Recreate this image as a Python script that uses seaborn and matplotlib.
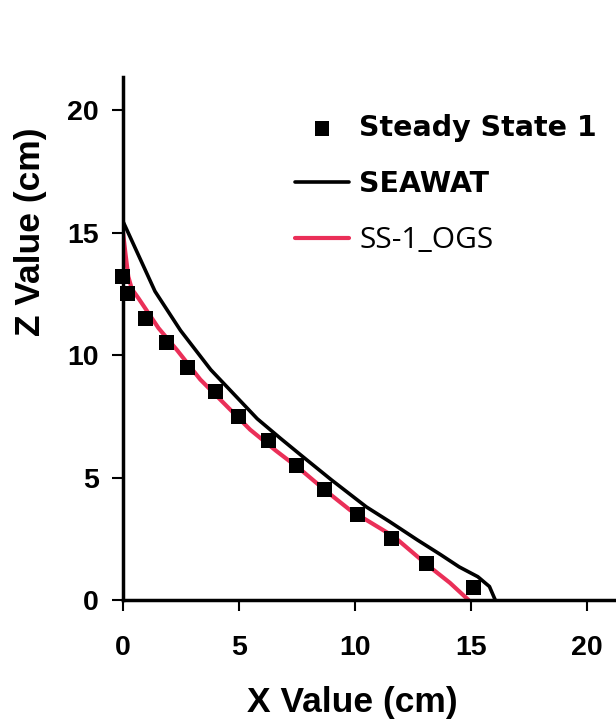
import matplotlib
matplotlib.use("Agg")
import matplotlib.pyplot as plt
import seaborn as sns
import pandas as pd

# Steady State 1 measured points
ss_x = [0.0, 0.2, 1.0, 1.9, 2.8, 4.0, 5.0, 6.3, 7.5, 8.7, 10.1, 11.6, 13.1, 15.1]
ss_z = [13.2, 12.5, 11.5, 10.5, 9.5, 8.5, 7.5, 6.5, 5.5, 4.5, 3.5, 2.5, 1.5, 0.5]

# SEAWAT interface
seawat_x = [0.0, 1.4, 2.5, 3.8, 5.0, 5.8, 6.8, 7.7, 9.0, 10.5, 11.5, 12.7, 13.7, 14.5, 15.3, 15.8, 16.05]
seawat_z = [15.5, 12.6, 11.0, 9.4, 8.2, 7.4, 6.6, 5.9, 4.9, 3.8, 3.2, 2.45, 1.85, 1.35, 0.95, 0.55, 0.0]

# SS-1_OGS interface
ogs_x = [0.0, 0.12, 0.25, 0.4, 0.7, 1.55, 2.35, 3.35, 4.4, 5.5, 6.6, 7.7, 8.7, 9.8, 11.7, 13.1, 14.1, 14.9]
ogs_z = [15.2, 14.2, 13.2, 12.7, 12.3, 11.1, 10.2, 9.0, 8.0, 6.95, 6.1, 5.3, 4.5, 3.67, 2.58, 1.45, 0.7, 0.0]

x_ticks = [0, 5, 10, 15, 20]
z_ticks = [0, 5, 10, 15, 20]

ss_df = pd.DataFrame({"x": ss_x, "z": ss_z})
seawat_df = pd.DataFrame({"x": seawat_x, "z": seawat_z})
ogs_df = pd.DataFrame({"x": ogs_x, "z": ogs_z})

sns.set_style("ticks")
plt.rcParams["font.family"] = ["Liberation Sans", "DejaVu Sans"]
plt.rcParams["text.color"] = "black"
plt.rcParams["axes.labelcolor"] = "black"

W, H = 616, 721
fig = plt.figure(figsize=(W / 100, H / 100), dpi=100)
left, bottom, top = 122.5, 600, 77
ax = fig.add_axes([left / W, (H - bottom) / H, (W - left) / W, (bottom - top) / H])

red = "#ea2f58"

sns.lineplot(data=seawat_df, x="x", y="z", sort=False, estimator=None, color="black",
             linewidth=2.6, ax=ax, label="SEAWAT")
sns.lineplot(data=ogs_df, x="x", y="z", sort=False, estimator=None, color=red,
             linewidth=3.0, ax=ax, label="SS-1_OGS")
sns.scatterplot(data=ss_df, x="x", y="z", marker="s", s=115, color="black",
                edgecolor="none", ax=ax, label="Steady State 1", clip_on=False, zorder=3)

ax.set_xlim(0, 21.25)
ax.set_ylim(0, 21.35)
ax.set_xticks(x_ticks)
ax.set_yticks(z_ticks)

for side in ["top", "right"]:
    ax.spines[side].set_visible(False)
for side in ["left", "bottom"]:
    ax.spines[side].set_linewidth(2.5)
    ax.spines[side].set_color("black")

ax.tick_params(axis="both", direction="out", length=8, width=1.5, colors="black",
               labelcolor="black", labelsize=20.5)
ax.tick_params(axis="x", pad=17)
ax.tick_params(axis="y", pad=9)
for lab in ax.get_xticklabels() + ax.get_yticklabels():
    lab.set_fontweight("bold")

ax.set_xlabel("X Value (cm)", fontsize=25.5, fontweight="bold", color="black")
ax.set_ylabel("Z Value (cm)", fontsize=25.5, fontweight="bold", color="black")
ax.xaxis.label.set_va("center")
ax.yaxis.label.set_va("center")
ax.xaxis.set_label_coords(0.465, -0.196)
ax.yaxis.set_label_coords(-0.187, 0.704)

handles, labels = ax.get_legend_handles_labels()
order = [labels.index("Steady State 1"), labels.index("SEAWAT"), labels.index("SS-1_OGS")]
leg = ax.legend([handles[i] for i in order], [labels[i] for i in order],
                loc="upper left", bbox_to_anchor=(295 / W, 1 - 114 / H),
                bbox_transform=fig.transFigure, frameon=False, borderpad=0,
                borderaxespad=0, handlelength=1.9, handletextpad=0.36,
                labelspacing=0.98, prop={"family": "DejaVu Sans", "weight": "bold", "size": 20.5})
texts = leg.get_texts()
for t in texts:
    t.set_color("black")
texts[2].set_fontproperties({"family": "Open Sans", "weight": "normal", "size": 21.5})

fig.savefig("out.png", dpi=100)
